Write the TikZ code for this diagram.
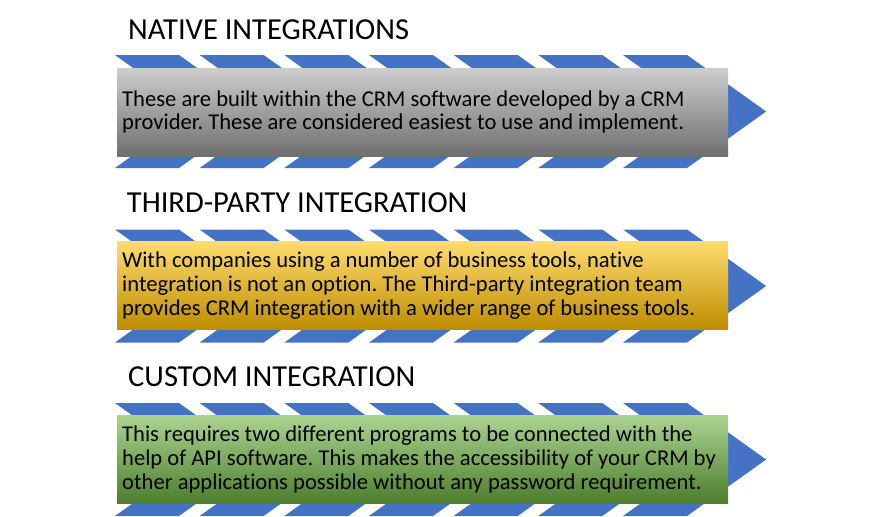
\documentclass[tikz,border=0pt]{standalone}
\usepackage{fontspec}
\setmainfont{Carlito}[Ligatures=NoCommon]
\frenchspacing
\definecolor{chevblue}{HTML}{4472C4}
\definecolor{grayT}{HTML}{CDCDCD}
\definecolor{grayM}{HTML}{A8A8A8}
\definecolor{grayB}{HTML}{6F6F6F}
\definecolor{yelT}{HTML}{FFDC6E}
\definecolor{yelM}{HTML}{FFC000}
\definecolor{yelB}{HTML}{BC8C00}
\definecolor{grnT}{HTML}{ABD391}
\definecolor{grnM}{HTML}{72AE48}
\definecolor{grnB}{HTML}{4C7D2C}
\tikzset{
  heading/.style={anchor=base west, inner sep=0pt, font=\fontsize{30.5}{36}\selectfont},
  panel/.style={anchor=west, minimum width=611pt, minimum height=88pt, inner sep=0pt},
  bodytext/.style={anchor=west, inner sep=0pt, align=left, font=\fontsize{22.6}{23.8}\selectfont},
  chev/.style={fill=chevblue, draw=none}
}
\newcommand{\chevrons}[1]{%
  \foreach \i in {0,...,6}{%
    \pgfmathsetmacro{\xx}{115+\i*84.67}
    \fill[chev] (\xx,#1-56.5) -- ++(64,0) -- ++(79.1,56.5) -- ++(-79.1,56.5) -- ++(-64,0) -- ++(79.1,-56.5) -- cycle;
  }%
}
\begin{document}
\begin{tikzpicture}[x=1pt,y=-1pt]
\useasboundingbox (0,0) rectangle (884,517);
% section 1
\chevrons{111.5}
\node[panel, top color=grayT, middle color=grayM, bottom color=grayB] (p1) at (117,112) {};
\node[bodytext] (t1) at ([xshift=5pt]p1.west) {These are built within the CRM software developed by a CRM\\provider. These are considered easiest to use and implement.};
\node[heading] (h1) at (128,39.3) {NATIVE INTEGRATIONS};
% section 2
\chevrons{286}
\node[panel, top color=yelT, middle color=yelM, bottom color=yelB] (p2) at (117,285.8) {};
\node[bodytext] (t2) at ([xshift=5pt]p2.west) {With companies using a number of business tools, native\\integration is not an option. The Third-party integration team\\provides CRM integration with a wider range of business tools.};
\node[heading] (h2) at (126.7,212.3) {THIRD-PARTY INTEGRATION};
% section 3
\chevrons{459.5}
\node[panel, top color=grnT, middle color=grnM, bottom color=grnB] (p3) at (117,459.5) {};
\node[bodytext] (t3) at ([xshift=5pt]p3.west) {This requires two different programs to be connected with the\\help of API software. This makes the accessibility of your CRM by\\other applications possible without any password requirement.};
\node[heading] (h3) at (128,386.7) {CUSTOM INTEGRATION};
\end{tikzpicture}
\end{document}
